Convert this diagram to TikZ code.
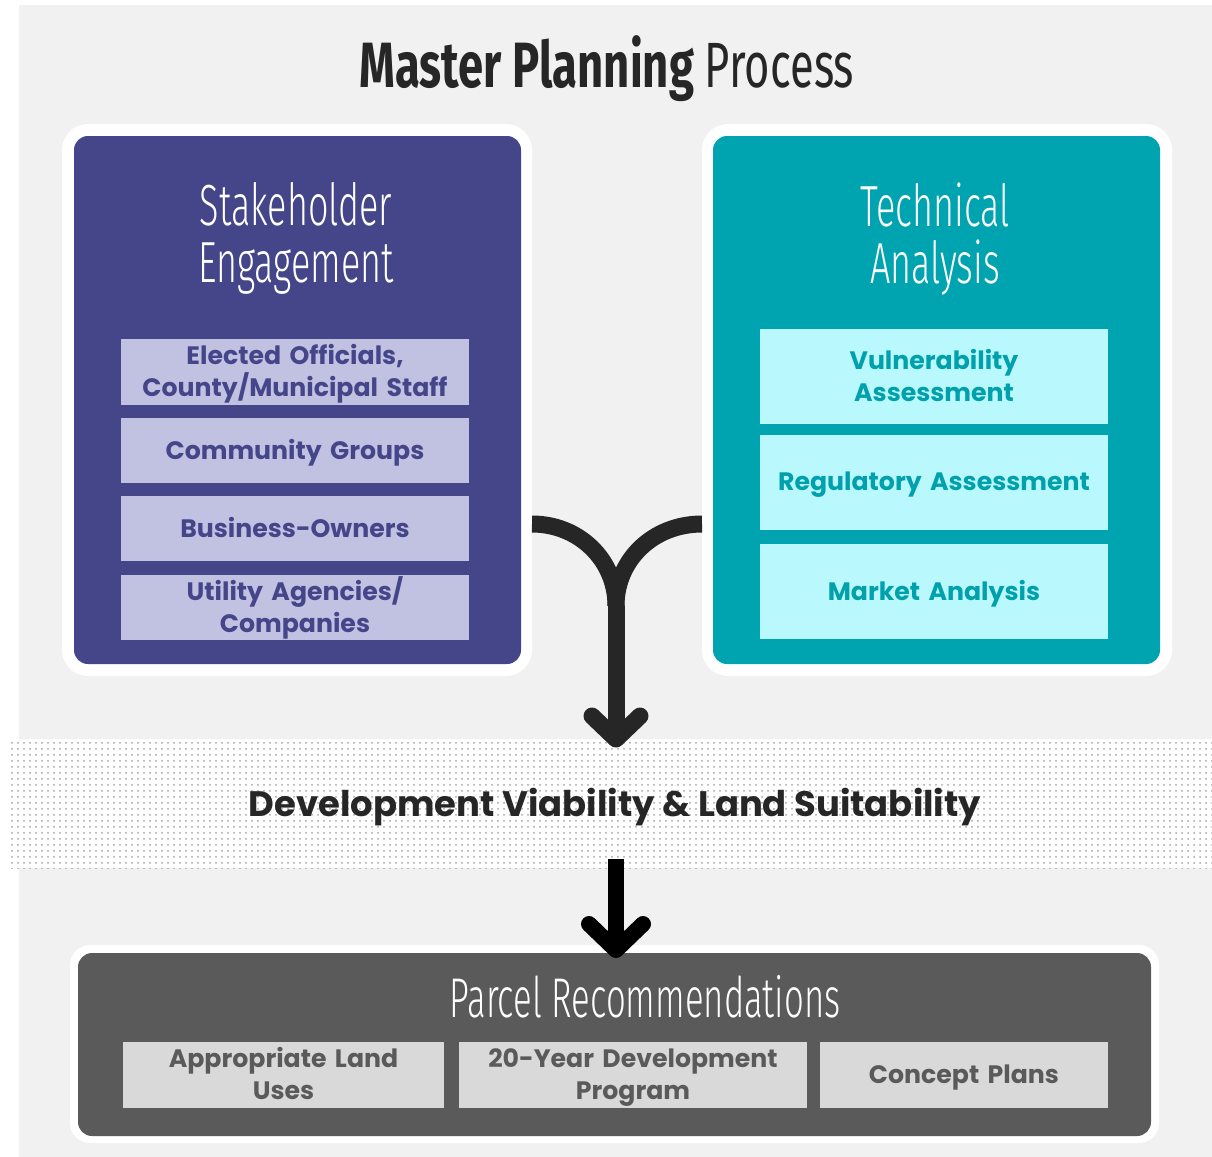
\documentclass[tikz,border=0pt]{standalone}
\usepackage{fontspec}
\setmainfont{Poppins}
\newfontfamily\boxfont[WordSpace={0.85,0,0}]{Poppins}
\newfontfamily\headfont[FakeStretch=0.68, BoldFeatures={FakeStretch=0.71}]{Fira Sans}
\newfontfamily\thinfont[FakeStretch=0.62]{Fira Sans Light}
\usetikzlibrary{patterns}

\definecolor{bgray}{HTML}{F1F1F1}
\definecolor{ink}{HTML}{262626}
\definecolor{stake}{HTML}{45458A}
\definecolor{stakelight}{HTML}{C1C1E1}
\definecolor{tech}{HTML}{00A4B1}
\definecolor{techlight}{HTML}{B9F9FD}
\definecolor{techtext}{HTML}{00A0AC}
\definecolor{parcel}{HTML}{5A5A5A}
\definecolor{parcellight}{HTML}{D9D9D9}
\definecolor{dotgray}{HTML}{A6A6A6}

\tikzset{
  frame/.style={fill=white, rounded corners=13pt, inner sep=0pt},
  panel/.style={rounded corners=7pt, inner sep=0pt},
  % struts keep the cap line centred in every box
  itemfont/.style={font=\boxfont\bfseries\fontsize{12.6}{16}\selectfont, align=center, inner sep=0pt,
    execute at begin node={\rule{0pt}{12pt}},
    execute at end node={\rule[-3.2pt]{0pt}{3.2pt}}},
  sitem/.style={itemfont, fill=stakelight, text=stake, text width=174pt},
  titem/.style={itemfont, fill=techlight, text=techtext, text width=174pt, minimum height=47.5pt},
  pitem/.style={itemfont, fill=parcellight, text=parcel, minimum height=33pt},
  heading/.style={text=white, align=center, inner sep=0pt,
    font=\thinfont\fontsize{29}{28.5}\selectfont},
  flow/.style={line width=8.5pt, draw=ink, line cap=round, line join=round},
}

\begin{document}
\begin{tikzpicture}[x=0.5pt, y=-0.5pt]
  \useasboundingbox (0,0) rectangle (1212,1157);
  \fill[bgray] (19,5) rectangle (1212,1157);

  % dotted band
  \fill[white] (11,739) rectangle (1212,868);
  \fill[pattern=dots, pattern color=dotgray] (11,739) rectangle (1212,868);

  \node(title)[anchor=base, text=ink, inner sep=0pt, font=\headfont\fontsize{32}{36}\selectfont]
    at (607,87) {\bfseries Master Planning \mdseries Process};

  % stakeholder panel
  \node(lframe)[frame, minimum width=235pt, minimum height=276pt] at (297,400) {};
  \node(lpanel)[panel, fill=stake, minimum width=223.5pt, minimum height=264pt] at (297.5,400) {};
  \node(lhead)[heading] at (296,238) {Stakeholder\\Engagement};
  \node(s1)[sitem, minimum height=33pt] at (295,372) {Elected Officials,\\County/Municipal Staff};
  \node(s2)[sitem, minimum height=32.5pt] at (295,450.5) {Community Groups};
  \node(s3)[sitem, minimum height=32.5pt] at (295,528.5) {Business-Owners};
  \node(s4)[sitem, minimum height=32.5pt] at (295,607.5) {Utility Agencies/\\Companies};

  % technical panel
  \node(rframe)[frame, minimum width=235pt, minimum height=276pt] at (937,400) {};
  \node(rpanel)[panel, fill=tech, minimum width=223.5pt, minimum height=264pt] at (936.5,400) {};
  \node(rhead)[heading] at (935,239) {Technical\\Analysis};
  \node(t1)[titem] at (934,376.5) {Vulnerability\\Assessment};
  \node(t2)[titem] at (934,482) {Regulatory Assessment};
  \node(t3)[titem] at (934,591.5) {Market Analysis};

  % merging arrow
  \coordinate (fromL) at (532,524);
  \coordinate (fromR) at (702,524);
  \coordinate (join) at (616,606);
  \coordinate (tip) at (616,739);
  \draw[flow, line cap=butt] (fromL) .. controls (579,524) and (616,560) .. (join);
  \draw[flow, line cap=butt] (fromR) .. controls (653,524) and (616,560) .. (join);
  \draw[flow, line cap=butt] (join) -- (tip);
  \draw[flow] (592,716) -- (tip) -- (640,716);

  \node(dev)[anchor=base, text=ink, inner sep=0pt, font=\bfseries\fontsize{17.7}{20}\selectfont]
    at (615,816) {Development Viability \& Land Suitability};

  % parcel panel
  \node(bframe)[frame, rounded corners=10pt, minimum width=544.5pt, minimum height=99pt] at (614.5,1044) {};
  \node(bpanel)[panel, fill=parcel, minimum width=536.5pt, minimum height=91.5pt] at (614.5,1044.5) {};
  \node(bhead)[anchor=base, text=white, inner sep=0pt, font=\thinfont\fontsize{28}{30}\selectfont]
    at (645,1017) {Parcel Recommendations};
  \node(p1)[pitem, text width=160.5pt] at (283.5,1075) {Appropriate Land\\Uses};
  \node(p2)[pitem, text width=174pt] at (633,1075) {20-Year Development\\Program};
  \node(p3)[pitem, text width=144pt] at (964,1075) {Concept Plans};

  % arrow into parcels
  \coordinate (down) at (616,859);
  \coordinate (land) at (616,950);
  \draw[flow, draw=black, line width=8pt, line cap=butt] (down) -- (land);
  \draw[flow, draw=black, line width=8pt] (589,924) -- (land) -- (643,924);
\end{tikzpicture}
\end{document}
